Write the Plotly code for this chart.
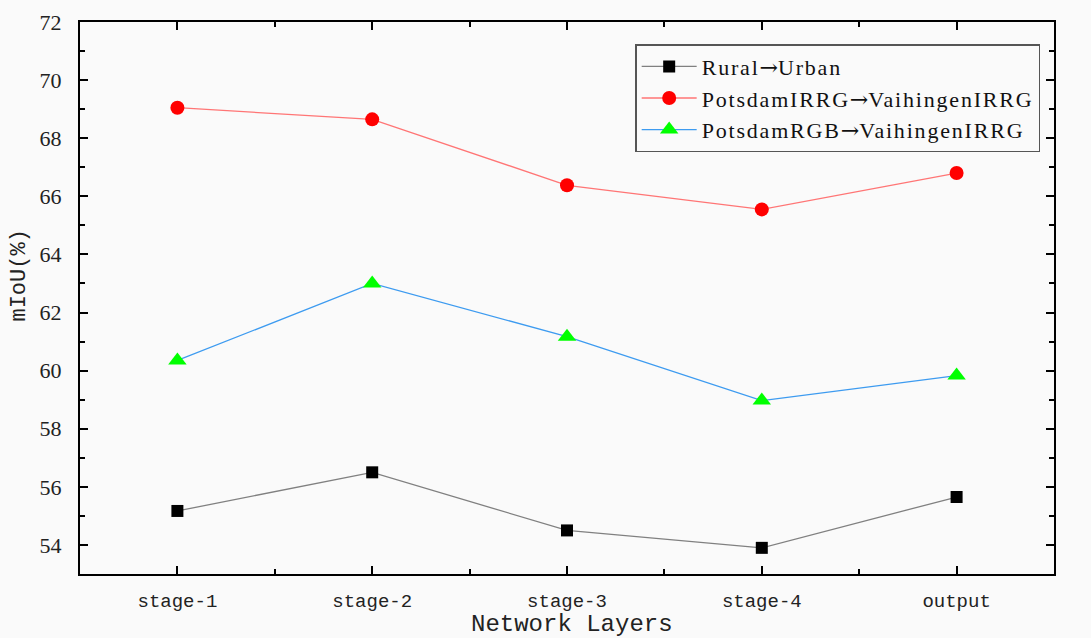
import plotly.graph_objects as go

categories = ["stage-1", "stage-2", "stage-3", "stage-4", "output"]
rural_urban = [55.17, 56.5, 54.5, 53.9, 55.65]
irrg_irrg = [69.05, 68.65, 66.38, 65.55, 66.8]
rgb_irrg = [60.35, 63.0, 61.17, 58.97, 59.83]

arrow = "<span style=\"font-family:'DejaVu Serif'\">→</span>"
raw_names = [("Rural", "Urban"), ("PotsdamIRRG", "VaihingenIRRG"), ("PotsdamRGB", "VaihingenIRRG")]
names = ["<span style=\"letter-spacing:1.8px\">" + a + "</span>" + arrow +
         "<span style=\"letter-spacing:1.8px\">" + b + "</span>" for a, b in raw_names]
series = [rural_urban, irrg_irrg, rgb_irrg]
line_colors = ["#808080", "#ff7575", "#3d9bf0"]
marker_colors = ["#000000", "#ff0000", "#00ff00"]
symbols = ["square", "circle", "triangle-up"]
sizes = [12, 14, 16]

x = list(range(len(categories)))
fig = go.Figure()
for n, s, lc, mc, sym, sz in zip(names, series, line_colors, marker_colors, symbols, sizes):
    fig.add_trace(go.Scatter(
        x=x, y=s, name=n, mode="lines+markers",
        line=dict(color=lc, width=1.3),
        marker=dict(color=mc, symbol=sym, size=sz, line=dict(width=0)),
    ))

axis_common = dict(
    showline=True, linecolor="black", linewidth=2, mirror="ticks",
    ticks="inside", ticklen=8, tickwidth=1.5, tickcolor="black",
    showgrid=False, zeroline=False, automargin=False,
)
fig.update_xaxes(
    **axis_common, range=[-0.5, 4.5], tickmode="array", tickvals=x, ticktext=categories,
    tickfont=dict(family="Liberation Mono", size=19, color="#222"), ticklabelstandoff=8,
    minor=dict(tickmode="array", tickvals=[-0.5, 0.5, 1.5, 2.5, 3.5, 4.5], ticks="inside",
               ticklen=5, tickwidth=1.5, tickcolor="black"),
)
fig.update_yaxes(
    **axis_common, range=[53, 72], tickmode="linear", tick0=54, dtick=2,
    tickfont=dict(family="Liberation Serif", size=22, color="#222"), ticklabelstandoff=12,
    minor=dict(dtick=1, tick0=53, ticks="inside", ticklen=5, tickwidth=1.5, tickcolor="black"),
)
fig.add_annotation(text="Network Layers", xref="paper", yref="paper", x=0.505, y=-0.0906,
                   xanchor="center", yanchor="middle", showarrow=False,
                   font=dict(family="Liberation Mono", size=24, color="#222"))
fig.add_annotation(text="mIoU(%)", xref="paper", yref="paper", x=-0.062, y=0.54,
                   xanchor="center", yanchor="middle", showarrow=False, textangle=-90,
                   font=dict(family="Liberation Mono", size=22, color="#222"))
fig.update_layout(
    width=1091, height=638,
    margin=dict(l=80, r=37, t=22, b=64),
    paper_bgcolor="#fafafa", plot_bgcolor="#fafafa",
    legend=dict(x=0.57, y=0.96, xanchor="left", yanchor="top",
                bordercolor="#555", borderwidth=1.5, bgcolor="#fafafa",
                font=dict(family="Liberation Serif", size=22, color="#111"),
                tracegroupgap=0, itemwidth=55),
    showlegend=True,
)
fig.write_html("out.html")
